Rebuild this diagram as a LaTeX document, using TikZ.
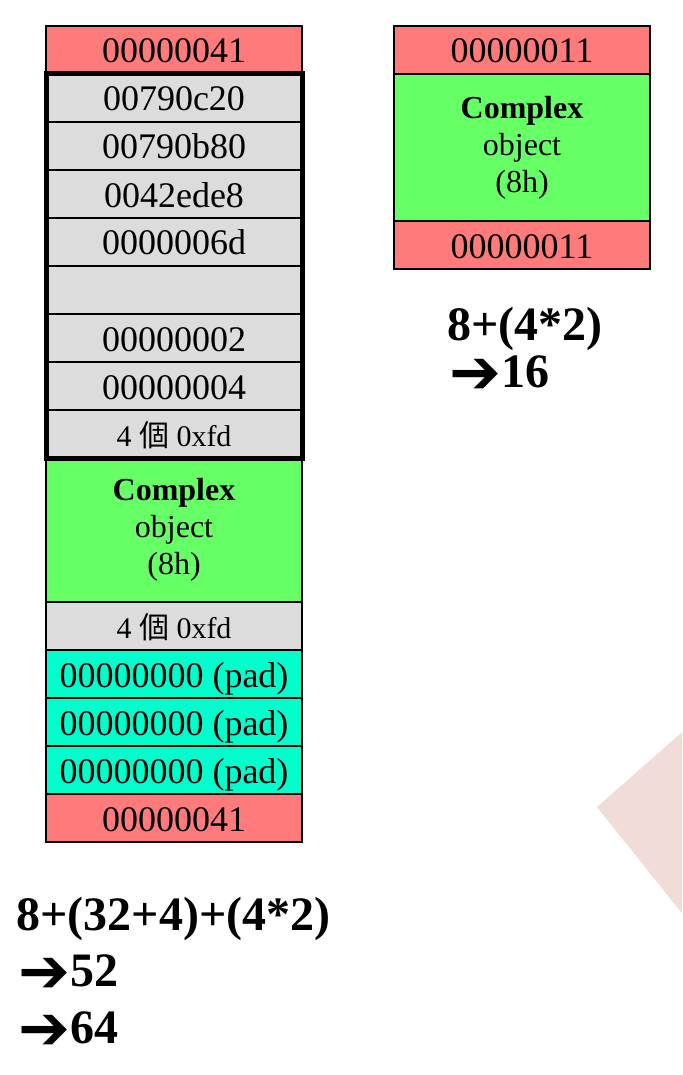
\documentclass[tikz,border=0pt]{standalone}
\usepackage{fontspec}
\setmainfont{Liberation Serif}
\newfontfamily\cjk{Noto Sans CJK TC}
\newfontfamily\arrowfont{DejaVu Sans}
\usetikzlibrary{positioning}

\definecolor{hdrred}{HTML}{FF7B7B}
\definecolor{memgray}{HTML}{DCDCDC}
\definecolor{objgreen}{HTML}{66FF66}
\definecolor{padcyan}{HTML}{00FFCC}
\definecolor{markpink}{HTML}{F2DCD8}

\newcommand{\arr}{{\arrowfont\bfseries\fontsize{31}{31}\selectfont\raisebox{-0.1em}{➔}}}

\tikzset{
	cell/.style={rectangle, draw, line width=1pt, minimum width=128pt, minimum height=24pt, inner sep=0pt, outer sep=0pt},
	word/.style={cell, text height=13pt, text depth=0pt, font=\fontsize{18}{21}\selectfont},
	hdr/.style={word, fill=hdrred},
	mem/.style={word, fill=memgray},
	pad/.style={word, fill=padcyan},
	fdcell/.style={cell, fill=memgray, text height=12pt, text depth=0pt, font=\fontsize{15}{18}\selectfont},
	obj/.style={cell, fill=objgreen, align=center, font=\fontsize{16}{18.5}\selectfont},
	sum/.style={anchor=base west, inner sep=0pt, font=\bfseries\fontsize{24}{28}\selectfont}
}

\begin{document}
\begin{tikzpicture}[x=0.5pt, y=-0.5pt, node distance=0pt]
	\useasboundingbox (0,0) rectangle (682,1075);
	\begin{scope}
		\clip (0,0) rectangle (682,1075);
		\fill[markpink] (597,807) -- (705,712) -- (705,942) -- cycle;
	\end{scope}

	% left block
	\node[hdr, anchor=north west] (h1) at (46,26) {00000041};
	\node[mem, below=of h1] (m1) {00790c20};
	\node[mem, below=of m1] (m2) {00790b80};
	\node[mem, below=of m2] (m3) {0042ede8};
	\node[mem, below=of m3] (m4) {0000006d};
	\node[mem, below=of m4] (m5) {};
	\node[mem, below=of m5] (m6) {00000002};
	\node[mem, below=of m6] (m7) {00000004};
	\node[fdcell, below=of m7] (m8) {4 {\cjk 個} 0xfd};
	\node[obj, below=of m8, minimum height=72pt] (o1) {\textbf{Complex}\\object\\(8h)};
	\node[fdcell, below=of o1] (f1) {4 {\cjk 個} 0xfd};
	\node[pad, below=of f1] (p1) {00000000 (pad)};
	\node[pad, below=of p1] (p2) {00000000 (pad)};
	\node[pad, below=of p2] (p3) {00000000 (pad)};
	\node[hdr, below=of p3] (h2) {00000041};
	\draw[line width=2.5pt] (m1.north west) rectangle (m8.south east);

	% right block
	\node[hdr, anchor=north west] (r1) at (394,26) {00000011};
	\node[obj, below=of r1, minimum height=73.5pt] (o2) {\textbf{Complex}\\object\\(8h)};
	\node[hdr, below=of o2] (r2) {00000011};

	\node[sum] (s1) at (447,340) {8+(4*2)};
	\node[sum] (s2) at (449,387) {\arr16};

	\node[sum] (t1) at (16,930) {8+(32+4)+(4*2)};
	\node[sum] (t2) at (18,986) {\arr52};
	\node[sum] (t3) at (18,1043) {\arr64};
\end{tikzpicture}
\end{document}
